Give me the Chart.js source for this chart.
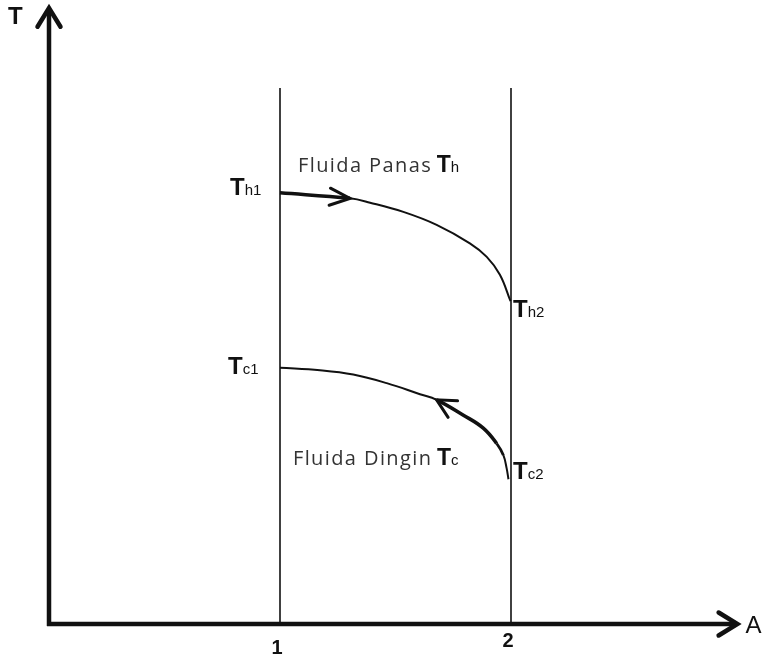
<!DOCTYPE html>
<html><head><meta charset="utf-8">
<script src="https://cdn.jsdelivr.net/npm/chart.js@4/dist/chart.umd.min.js"></script>
<style>html,body{margin:0;padding:0;background:#fff}#wrap{width:769px;height:656px}</style>
</head><body><div id="wrap"><canvas id="c" width="769" height="656"></canvas></div>
<script>
// ---- data ----
const hotX  = [1.0, 1.303, 1.39, 1.534, 1.678, 1.822, 1.895, 1.952, 1.998];
const hotY  = [7.00, 6.91, 6.84, 6.69, 6.48, 6.18, 5.96, 5.67, 5.24];
const coldX = [1.0, 1.173, 1.317, 1.462, 1.606, 1.678, 1.794, 1.880, 1.938, 1.967, 1.981, 1.989];
const coldY = [4.16, 4.12, 4.05, 3.91, 3.73, 3.64, 3.39, 3.18, 2.93, 2.74, 2.53, 2.35];
const wallX = [1, 2];
const wallTop = 8.7;
const xTickValues = [1, 2];
const xTickLabels = ['1', '2'];
const axisTitleX = 'A';
const axisTitleY = 'T';
const hotTitle = 'Fluida Panas ';
const coldTitle = 'Fluida Dingin ';

const pts = (xs, ys) => xs.map((x, i) => ({x, y: ys[i]}));
const hotPts = pts(hotX, hotY);
const coldPts = pts(coldX, coldY);
const hotArrowIdx = 1, coldArrowIdx = 5;

const datasets = [];
wallX.forEach(w => datasets.push({data: [{x: w, y: 0}, {x: w, y: wallTop}], borderColor: '#111', borderWidth: 1.6, pointRadius: 0, showLine: true, tension: 0}));
datasets.push({data: hotPts, borderColor: '#111', borderWidth: 2, pointRadius: 0, showLine: true, tension: 0.4,
  segment: {borderWidth: c => c.p0DataIndex < hotArrowIdx ? 3.5 : 2}});
datasets.push({data: coldPts, borderColor: '#111', borderWidth: 2, pointRadius: 0, showLine: true, tension: 0.4,
  segment: {borderWidth: c => (c.p0DataIndex >= coldArrowIdx && c.p0DataIndex <= 7) ? 3.6 : (c.p0DataIndex === 8 ? 2.8 : 2)}});

function chevron(ctx, tx, ty, ang, len, half, lw) {
  ctx.save();
  ctx.lineWidth = lw; ctx.lineCap = 'round'; ctx.lineJoin = 'miter';
  ctx.strokeStyle = '#111';
  ctx.beginPath();
  ctx.moveTo(tx - len * Math.cos(ang - half), ty - len * Math.sin(ang - half));
  ctx.lineTo(tx, ty);
  ctx.lineTo(tx - len * Math.cos(ang + half), ty - len * Math.sin(ang + half));
  ctx.stroke();
  ctx.restore();
}
function subLabel(ctx, x, y, main, sub, mainFont, subFont) {
  ctx.save();
  ctx.fillStyle = '#111'; ctx.textBaseline = 'alphabetic'; ctx.textAlign = 'left';
  ctx.font = mainFont; ctx.fillText(main, x, y);
  const w = ctx.measureText(main).width;
  ctx.font = subFont; ctx.fillText(sub, x + w, y);
  ctx.restore();
}

const decor = {
  id: 'decor',
  afterDatasetsDraw(chart) {
    const ctx = chart.ctx, xs = chart.scales.x, ys = chart.scales.y;
    const X = v => xs.getPixelForValue(v), Y = v => ys.getPixelForValue(v);
    // axes
    ctx.save();
    ctx.strokeStyle = '#111'; ctx.lineWidth = 4.5; ctx.lineCap = 'butt';
    ctx.beginPath();
    ctx.moveTo(X(0), Y(0) + 2); ctx.lineTo(X(0), Y(10) + 2);
    ctx.moveTo(X(0) - 2, Y(0)); ctx.lineTo(X(2.98) - 2, Y(0));
    ctx.stroke();
    ctx.restore();
    chevron(ctx, X(0), Y(10), -Math.PI / 2, 22, 0.55, 4.5);
    chevron(ctx, X(2.98), Y(0), 0, 22, 0.55, 4.5);
    // curve arrows
    const h = hotArrowIdx, k = coldArrowIdx;
    const a1 = Math.atan2(Y(hotY[h]) - Y(hotY[h - 1]), X(hotX[h]) - X(hotX[h - 1]));
    chevron(ctx, X(hotX[h]), Y(hotY[h]), a1, 22, 0.4, 3);
    const a2 = Math.atan2(Y(coldY[k]) - Y(coldY[k + 1]), X(coldX[k]) - X(coldX[k + 1]));
    chevron(ctx, X(coldX[k]), Y(coldY[k]), a2, 21, 0.47, 3);
    // axis titles & ticks
    ctx.save();
    ctx.fillStyle = '#111';
    ctx.font = 'bold 24px "Liberation Sans"'; ctx.textAlign = 'left'; ctx.textBaseline = 'alphabetic';
    ctx.fillText(axisTitleY, X(0) - 41, Y(10) + 16);
    ctx.font = '24px "Liberation Sans"';
    ctx.fillText(axisTitleX, X(2.98) + 8, Y(0) + 9);
    ctx.font = 'bold 20px "Liberation Sans"'; ctx.textAlign = 'center';
    const tickDy = [30, 23];
    xTickValues.forEach((v, i) => ctx.fillText(xTickLabels[i], X(v) - 3, Y(0) + tickDy[i]));
    ctx.restore();
    // point labels
    const mf = 'bold 24px "Liberation Sans"', sf = '15px "Liberation Sans"';
    subLabel(ctx, X(hotX[0]) - 50, Y(hotY[0]) + 2, 'T', 'h1', mf, sf);
    subLabel(ctx, X(2) + 2, Y(hotY[hotY.length - 1]) + 16, 'T', 'h2', mf, sf);
    subLabel(ctx, X(coldX[0]) - 52, Y(coldY[0]) + 6, 'T', 'c1', mf, sf);
    subLabel(ctx, X(2) + 2, Y(coldY[coldY.length - 1]) + 0, 'T', 'c2', mf, sf);
    // fluid titles
    ctx.save();
    ctx.fillStyle = '#333'; ctx.font = '20px "Open Sans"'; ctx.textBaseline = 'alphabetic';
    ctx.letterSpacing = '1.4px';
    ctx.fillText(hotTitle, X(1.078), Y(7.34));
    let w1 = ctx.measureText(hotTitle).width;
    ctx.fillText(coldTitle, X(1.056), Y(2.58));
    let w2 = ctx.measureText(coldTitle).width;
    ctx.letterSpacing = '0px';
    ctx.restore();
    subLabel(ctx, X(1.078) + w1 - 2, Y(7.34), 'T', 'h', 'bold 23px "Liberation Sans"', '15px "Liberation Sans"');
    subLabel(ctx, X(1.056) + w2 - 2, Y(2.58), 'T', 'c', 'bold 23px "Liberation Sans"', '15px "Liberation Sans"');
  }
};

new Chart(document.getElementById('c'), {
  type: 'scatter',
  data: {datasets},
  options: {
    responsive: false, devicePixelRatio: 1, animation: false,
    layout: {padding: {left: 49, right: 27, top: 8, bottom: 32}},
    plugins: {legend: {display: false}, tooltip: {enabled: false}},
    scales: {
      x: {type: 'linear', min: 0, max: 3, display: false},
      y: {type: 'linear', min: 0, max: 10, display: false}
    }
  },
  plugins: [decor]
});
</script></body></html>
